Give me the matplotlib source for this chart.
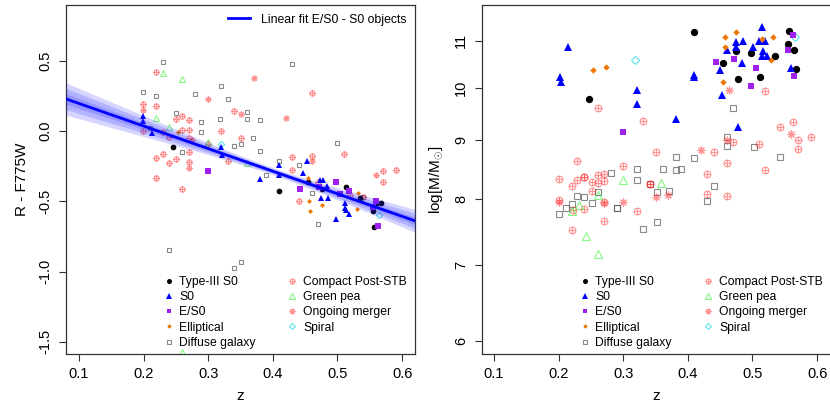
import numpy as np
import matplotlib
matplotlib.use("Agg")
import matplotlib.pyplot as plt
from matplotlib.lines import Line2D
from matplotlib.ticker import FixedLocator, FixedFormatter, NullLocator

plt.rcParams['font.family'] = ['Liberation Sans', 'DejaVu Sans']
plt.rcParams['mathtext.fontset'] = 'custom'
plt.rcParams['mathtext.rm'] = 'Liberation Sans'
plt.rcParams['mathtext.it'] = 'Liberation Sans:italic'

# ---------------- left panel: colour R - F775W vs z ----------------
t3_z_c = [0.246, 0.41, 0.455, 0.476, 0.513, 0.535, 0.555, 0.556, 0.56, 0.567]
t3_c = [-0.115, -0.43, -0.36, -0.415, -0.40, -0.48, -0.57, -0.68, -0.52, -0.51]

s0_z_c = [0.199, 0.199, 0.213, 0.32, 0.322, 0.38, 0.41, 0.41, 0.447, 0.453, 0.473,
          0.477, 0.484, 0.475, 0.486, 0.498, 0.512, 0.513, 0.518, 0.518, 0.512]
s0_c = [0.105, 0.07, -0.015, -0.115, -0.17, -0.34, -0.245, -0.31, -0.30, -0.21, -0.345,
        -0.345, -0.39, -0.475, -0.48, -0.625, -0.51, -0.56, -0.59, -0.43, -0.55]

es0_z_c = [0.30, 0.442, 0.471, 0.498, 0.504, 0.518, 0.555, 0.56, 0.563]
es0_c = [-0.285, -0.415, -0.40, -0.36, -0.45, -0.43, -0.54, -0.50, -0.675]

ell_z_c = [0.254, 0.455, 0.456, 0.457, 0.476, 0.532, 0.53]
ell_c = [-0.005, -0.335, -0.50, -0.57, -0.53, -0.44, -0.555]

dif_z_c = [0.230, 0.430, 0.199, 0.219, 0.280, 0.320, 0.331, 0.250, 0.360, 0.289,
           0.319, 0.360, 0.380, 0.289, 0.370, 0.350, 0.340, 0.260, 0.380, 0.500,
           0.410, 0.440, 0.390, 0.460, 0.470, 0.239, 0.340, 0.350, 0.210, 0.540]
dif_c = [0.49, 0.48, 0.28, 0.25, 0.26, 0.32, 0.23, 0.13, 0.135, 0.065,
         0.085, 0.085, 0.08, -0.01, -0.05, -0.09, -0.11, -0.15, -0.14, -0.085,
         -0.21, -0.24, -0.31, -0.44, -0.66, -0.85, -0.975, -0.93, 0.02, -0.47]

cps_z_c = [0.219, 0.199, 0.219, 0.46, 0.199, 0.25, 0.26, 0.27, 0.26, 0.27,
           0.32, 0.34, 0.23, 0.239, 0.27, 0.30, 0.35, 0.219, 0.23, 0.239,
           0.25, 0.27, 0.27, 0.219, 0.26, 0.33, 0.43, 0.43, 0.46, 0.51,
           0.57, 0.59, 0.57, 0.47, 0.44, 0.52, 0.54, 0.56]
cps_c = [0.42, 0.19, 0.18, 0.27, 0.0, 0.085, 0.11, 0.08, 0.01, 0.01,
         0.0, 0.14, -0.01, -0.04, -0.05, -0.09, -0.05, -0.19, -0.165, -0.23,
         -0.2, -0.15, -0.22, -0.335, -0.41, -0.21, -0.185, -0.28, -0.18, -0.16,
         -0.285, -0.28, -0.36, -0.36, -0.5, -0.455, -0.47, -0.51]

gp_z_c = [0.23, 0.26, 0.219, 0.239, 0.30, 0.36, 0.26]
gp_c = [0.41, 0.37, 0.09, 0.03, -0.08, -0.23, -1.57]

mrg_z_c = [0.371, 0.30, 0.199, 0.35, 0.42, 0.27, 0.275, 0.46, 0.56]
mrg_c = [0.38, 0.23, 0.15, 0.12, 0.09, -0.265, -0.065, -0.21, -0.31]

spi_z_c = [0.32, 0.565]
spi_c = [-0.09, -0.60]

# linear fit to E/S0 + S0 and band widths
fit_a, fit_b = 0.357, -1.607
band_z0, band_s0, band_s1 = 0.40, 0.025, 0.35

# ---------------- right panel: log mass vs z ----------------
t3_z_m = [0.41, 0.247, 0.455, 0.475, 0.477, 0.498, 0.512, 0.535, 0.557, 0.555, 0.565, 0.568]
t3_m = [11.19, 9.78, 10.52, 10.77, 10.19, 10.74, 10.23, 10.67, 11.22, 10.93, 10.8, 10.39]

s0_z_m = [0.214, 0.202, 0.203, 0.321, 0.322, 0.381, 0.41, 0.41, 0.453, 0.477, 0.56, 0.514,
          0.449, 0.461, 0.475, 0.475, 0.486, 0.484, 0.501, 0.51, 0.52, 0.517, 0.515, 0.523]
s0_m = [10.85, 10.23, 10.12, 9.96, 9.69, 9.4, 10.27, 10.22, 9.86, 9.24, 10.42, 11.3,
        10.37, 10.80, 10.97, 10.85, 11.0, 10.52, 10.87, 10.99, 10.99, 10.78, 10.67, 10.67]

es0_z_m = [0.30, 0.443, 0.472, 0.505, 0.498, 0.555, 0.563, 0.565]
es0_m = [9.16, 10.54, 10.6, 10.42, 10.03, 10.79, 11.12, 10.25]

ell_z_m = [0.254, 0.274, 0.458, 0.475, 0.458, 0.455, 0.532, 0.529, 0.514]
ell_m = [10.37, 10.44, 11.08, 11.19, 10.87, 10.12, 11.08, 10.58, 11.04]

dif_z_m = [0.47, 0.461, 0.461, 0.502, 0.542, 0.381, 0.41, 0.321, 0.361, 0.381,
           0.39, 0.281, 0.321, 0.441, 0.341, 0.352, 0.371, 0.229, 0.24, 0.261,
           0.43, 0.251, 0.22, 0.211, 0.2, 0.291, 0.29, 0.331, 0.352]
dif_m = [9.6, 9.05, 8.89, 8.87, 8.7, 8.7, 8.68, 8.49, 8.5, 8.47,
         8.5, 8.43, 8.31, 8.2, 8.24, 8.11, 8.13, 8.04, 8.02, 8.11,
         7.97, 7.93, 7.92, 7.85, 7.76, 7.85, 7.85, 7.52, 7.64]

cps_z_m = [0.261, 0.331, 0.52, 0.542, 0.562, 0.571, 0.571, 0.591, 0.47, 0.51,
           0.441, 0.461, 0.52, 0.43, 0.43, 0.461, 0.351, 0.30, 0.229, 0.20,
           0.22, 0.229, 0.24, 0.251, 0.261, 0.261, 0.271, 0.27, 0.24, 0.251,
           0.20, 0.341, 0.341, 0.24, 0.271, 0.222, 0.321, 0.22, 0.27]
cps_m = [9.61, 9.36, 9.94, 9.24, 9.33, 9.0, 8.85, 9.06, 8.97, 8.93,
         8.79, 8.6, 8.47, 8.4, 8.07, 8.04, 8.79, 8.55, 8.63, 8.33,
         8.21, 8.31, 8.36, 8.27, 8.39, 8.25, 8.41, 8.29, 8.36, 8.13,
         7.98, 8.24, 8.24, 7.83, 7.95, 7.82, 7.8, 7.51, 7.65]

gp_z_m = [0.30, 0.359, 0.261, 0.231, 0.22, 0.242, 0.261]
gp_m = [8.31, 8.25, 8.06, 7.9, 7.8, 7.42, 7.15]

mrg_z_m = [0.463, 0.42, 0.461, 0.56, 0.20, 0.27, 0.30, 0.35, 0.37]
mrg_m = [9.96, 8.83, 9.0, 9.12, 7.95, 7.93, 7.95, 8.02, 8.06]

spi_z_m = [0.319, 0.566]
spi_m = [10.58, 11.08]

# ---------------- styles ----------------
c_t3 = 'black'
c_s0 = '#0000FF'
c_es0 = '#A020F0'
c_ell = '#EE7600'
c_dif = (0.35, 0.35, 0.35, 0.7)
c_red = (1.0, 0.15, 0.15, 0.5)
c_gp = (0.2, 0.95, 0.2, 0.6)
c_spi = (0.1, 0.85, 0.9, 0.7)
asterisk = (8, 2, 0)

fig = plt.figure(figsize=(8.3, 4.05), dpi=100)
ax1 = fig.add_axes([66 / 830, 51 / 405, 349 / 830, 349 / 405])
ax2 = fig.add_axes([482 / 830, 51 / 405, 349 / 830, 349 / 405])


def draw_points(ax, k):
    ax.plot(dif_z, dif_v, ls='none', marker='s', ms=3.3 * k, mfc='none', mec=c_dif, mew=0.8)
    ax.plot(cps_z, cps_v, ls='none', marker='o', ms=3.6 * k, mfc='none', mec=c_red, mew=0.8)
    ax.plot(cps_z, cps_v, ls='none', marker='+', ms=3.6 * k, mec=c_red, mew=0.8)
    ax.plot(mrg_z, mrg_v, ls='none', marker=asterisk, ms=4.2 * k, mec=c_red, mew=0.8)
    ax.plot(gp_z, gp_v, ls='none', marker='^', ms=4.3 * k, mfc='none', mec=c_gp, mew=0.8)
    ax.plot(spi_z, spi_v, ls='none', marker='D', ms=3.1 * k, mfc='none', mec=c_spi, mew=0.8)
    ax.plot(t3_z, t3_v, ls='none', marker='o', ms=3.9 * k, color=c_t3, mew=0)
    ax.plot(s0_z, s0_v, ls='none', marker='^', ms=4.5 * k, color=c_s0, mew=0)
    ax.plot(es0_z, es0_v, ls='none', marker='s', ms=3.7 * k, color=c_es0, mew=0)
    ax.plot(ell_z, ell_v, ls='none', marker='D', ms=2.4 * k, color=c_ell, mew=0)


# left panel
dif_z, dif_v, cps_z, cps_v = dif_z_c, dif_c, cps_z_c, cps_c
mrg_z, mrg_v, gp_z, gp_v = mrg_z_c, mrg_c, gp_z_c, gp_c
spi_z, spi_v, t3_z, t3_v = spi_z_c, spi_c, t3_z_c, t3_c
s0_z, s0_v, es0_z, es0_v = s0_z_c, s0_c, es0_z_c, es0_c
ell_z, ell_v = ell_z_c, ell_c
draw_points(ax1, 1.05)

zz = np.linspace(0.08, 0.62, 200)
yy = fit_a + fit_b * zz
half = np.sqrt(band_s0 ** 2 + (band_s1 * (zz - band_z0)) ** 2)
for f in (1.0, 0.66, 0.33):
    ax1.fill_between(zz, yy - f * half, yy + f * half, color='#2020FF', alpha=0.19, lw=0, zorder=3)
fit_line, = ax1.plot(zz, yy, color='#0000FF', lw=2.0, zorder=4)

ax1.set_xlim(0.08, 0.62)
ax1.set_ylim(-1.587, 0.897)
ax1.set_yticks([-1.5, -1.0, -0.5, 0.0, 0.5])
ax1.set_yticklabels(['-1.5', '-1.0', '-0.5', '0.0', '0.5'])
ax1.set_ylabel('R - F775W', fontsize=11)

# right panel
dif_z, dif_v, cps_z, cps_v = dif_z_m, dif_m, cps_z_m, cps_m
mrg_z, mrg_v, gp_z, gp_v = mrg_z_m, mrg_m, gp_z_m, gp_m
spi_z, spi_v, t3_z, t3_v = spi_z_m, spi_m, t3_z_m, t3_m
s0_z, s0_v, es0_z, es0_v = s0_z_m, s0_m, es0_z_m, es0_m
ell_z, ell_v = ell_z_m, ell_m
draw_points(ax2, 1.35)

ax2.set_yscale('log')
ax2.set_xlim(0.0815, 0.6215)
ax2.set_ylim(5.85, 11.82)
ax2.yaxis.set_major_locator(FixedLocator([6, 7, 8, 9, 10, 11]))
ax2.yaxis.set_major_formatter(FixedFormatter(['6', '7', '8', '9', '10', '11']))
ax2.yaxis.set_minor_locator(NullLocator())
ax2.set_ylabel(r'log[M/M$_{\odot}$]', fontsize=11)

# legends
hs = [
    Line2D([], [], ls='none', marker='o', ms=3.6, color=c_t3, mew=0),
    Line2D([], [], ls='none', marker='^', ms=4.0, color=c_s0, mew=0),
    Line2D([], [], ls='none', marker='s', ms=3.4, color=c_es0, mew=0),
    Line2D([], [], ls='none', marker='D', ms=2.3, color=c_ell, mew=0),
    Line2D([], [], ls='none', marker='s', ms=3.4, mfc='none', mec=c_dif, mew=0.8),
    (Line2D([], [], ls='none', marker='o', ms=3.6, mfc='none', mec=c_red, mew=0.8),
     Line2D([], [], ls='none', marker='+', ms=3.6, mec=c_red, mew=0.8)),
    Line2D([], [], ls='none', marker='^', ms=4.2, mfc='none', mec=c_gp, mew=0.8),
    Line2D([], [], ls='none', marker=asterisk, ms=4.2, mec=c_red, mew=0.8),
    Line2D([], [], ls='none', marker='D', ms=3.0, mfc='none', mec=c_spi, mew=0.8),
]
labels = ['Type-III S0', 'S0', 'E/S0', 'Elliptical', 'Diffuse galaxy',
          'Compact Post-STB', 'Green pea', 'Ongoing merger', 'Spiral']

for ax in (ax1, ax2):
    leg = ax.legend(hs, labels, ncol=2, loc='lower left', bbox_to_anchor=(0.28, 0.015),
                    frameon=False, fontsize=8.7, handlelength=0.8, handletextpad=0.5,
                    labelspacing=0.26, columnspacing=2.6, borderpad=0, borderaxespad=0)
    if ax is ax1:
        ax.add_artist(leg)
    ax.set_xticks([0.1, 0.2, 0.3, 0.4, 0.5, 0.6])
    ax.set_xlabel('z', fontsize=11, va='center')
    ax.xaxis.set_label_coords(0.5, -0.12)
    ax.yaxis.set_label_coords(-0.105, 0.5)
    ax.tick_params(direction='out', length=5, width=0.8, labelsize=10.5, color='#333333')
    ax.tick_params(axis='x', pad=4)
    ax.tick_params(axis='y', pad=5)
    plt.setp(ax.get_yticklabels(), rotation=90, va='center')
    for sp in ax.spines.values():
        sp.set_color('#333333')
        sp.set_linewidth(0.9)

ax1.legend([fit_line], ['Linear fit E/S0 - S0 objects'], loc='upper right',
           frameon=False, fontsize=8.8, handlelength=1.8, handletextpad=0.9,
           borderaxespad=0.3)

fig.savefig('out.png', dpi=100)
